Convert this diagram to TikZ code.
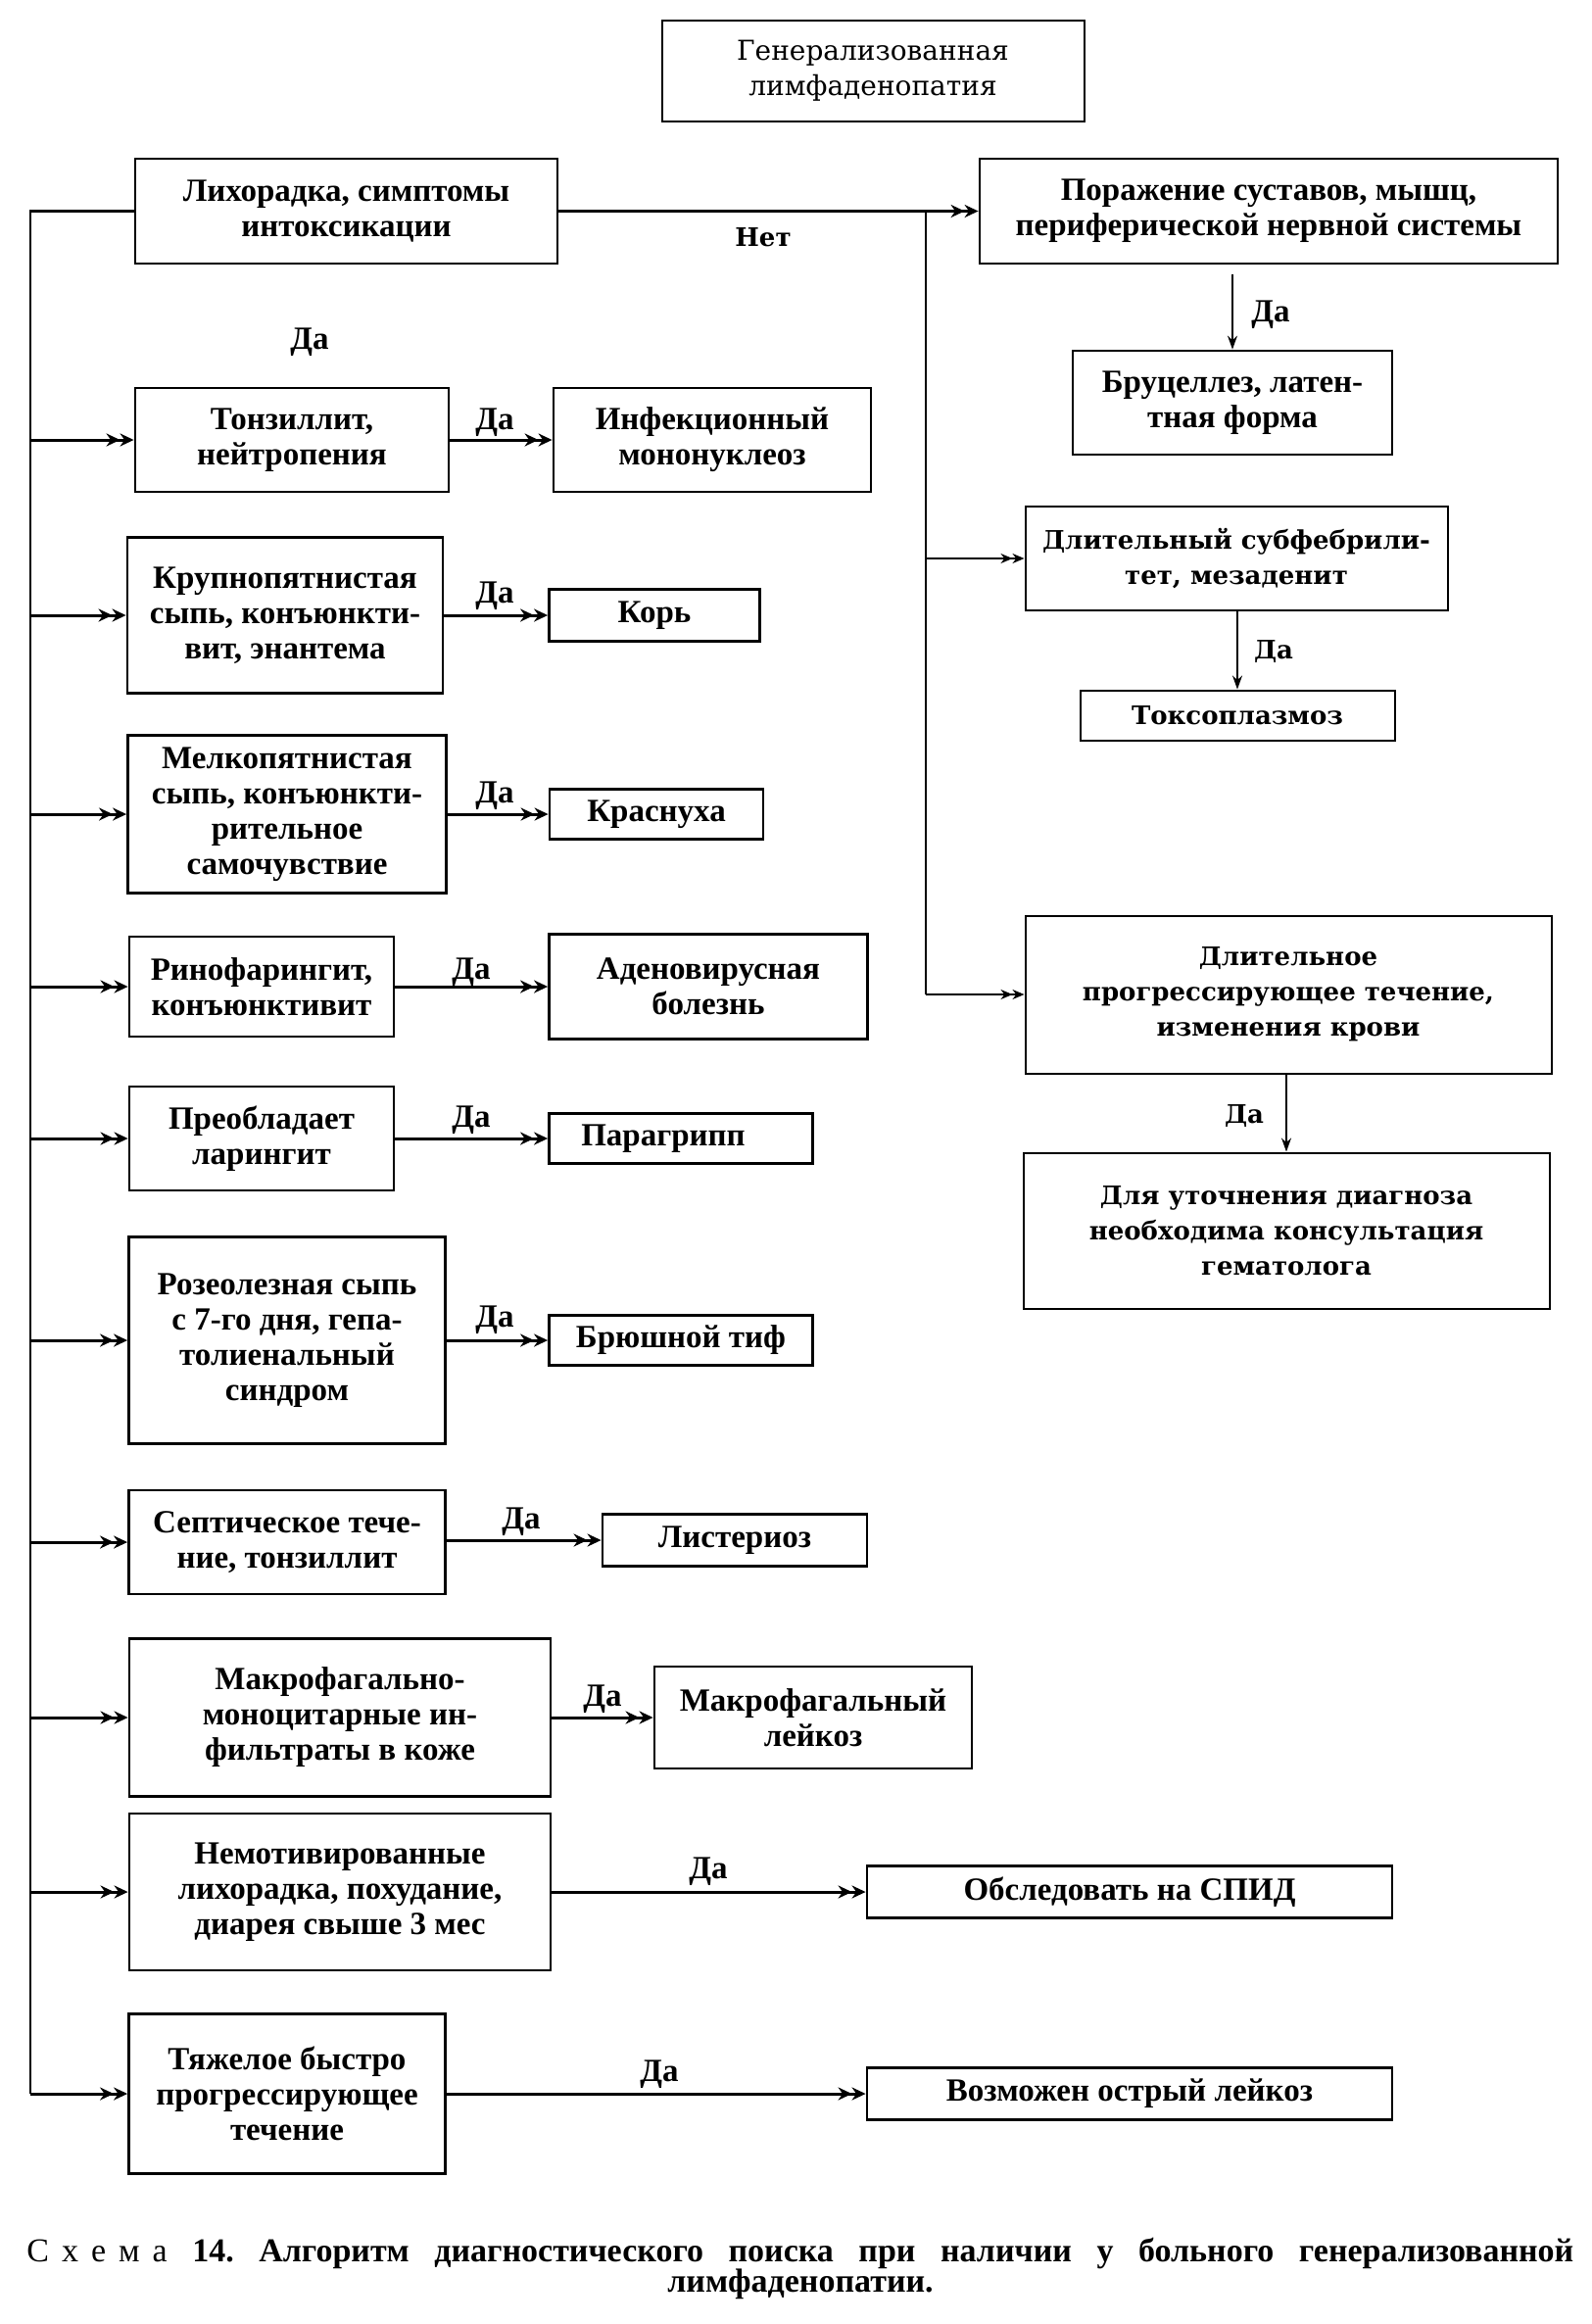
\documentclass[tikz,border=0pt]{standalone}
\usepackage{fontspec}
\setmainfont{Liberation Serif}
\newfontfamily\cfont{DejaVu Serif}
\usetikzlibrary{arrows.meta}
\frenchspacing
\begin{document}
\begin{tikzpicture}[x=0.5pt,y=-0.5pt,
  lbox/.style={draw, line width=1.4pt, align=center, inner sep=0pt, font=\bfseries\fontsize{16.5}{18}\selectfont},
  cbox/.style={draw, line width=1pt, align=center, inner sep=0pt, font=\cfont\bfseries\fontsize{13}{18}\selectfont},
  topbox/.style={draw, line width=1pt, align=center, inner sep=0pt, font=\cfont\fontsize{14}{18}\selectfont},
  larr/.style={line width=1.5pt, -{Stealth[length=7pt,width=6.5pt]Stealth[length=7pt,width=6.5pt]}},
  tarr/.style={line width=0.8pt, -{Stealth[length=6pt,width=5pt]Stealth[length=6pt,width=5pt]}},
  varr/.style={line width=0.8pt, -{Stealth[length=7pt,width=5pt]}},
  lbl/.style={inner sep=0pt, font=\bfseries\fontsize{16.5}{18}\selectfont},
  clbl/.style={inner sep=0pt, font=\cfont\bfseries\fontsize{13}{18}\selectfont}
]
\path[use as bounding box] (0,0) rectangle (1624,2372);

% top
\node[topbox, minimum width=215.5pt, minimum height=51.5pt] (top) at (891,72) {Генерализованная\\лимфаденопатия};
\node[lbox, minimum width=215.5pt, minimum height=53.5pt] (fev) at (353.5,215.5) {Лихорадка, симптомы\\интоксикации};
\node[lbox, minimum width=295pt, minimum height=53.5pt] (jnt) at (1295,215.5) {Поражение суставов, мышц,\\периферической нервной системы};
\node[lbox, minimum width=163pt, minimum height=53pt] (bru) at (1258,411) {Бруцеллез, латен-\\тная форма};
\node[cbox, minimum width=215.5pt, minimum height=53pt] (sub) at (1262,570) {Длительный субфебрили-\\тет, мезаденит};
\node[cbox, minimum width=160.5pt, minimum height=25.5pt] (tox) at (1263,730) {Токсоплазмоз};
\node[cbox, minimum width=268.5pt, minimum height=80.5pt] (lng) at (1315,1015) {Длительное\\прогрессирующее течение,\\изменения крови};
\node[cbox, minimum width=268.5pt, minimum height=79.5pt] (hem) at (1313,1256) {Для уточнения диагноза\\необходима консультация\\гематолога};

% left column
\node[lbox, minimum width=160pt, minimum height=53pt] (t1) at (298,449) {Тонзиллит,\\нейтропения};
\node[lbox, minimum width=162pt, minimum height=53pt] (d1) at (727,449) {Инфекционный\\мононуклеоз};
\node[lbox, minimum width=161pt, minimum height=79.5pt] (t2) at (291,628) {Крупнопятнистая\\сыпь, конъюнкти-\\вит, энантема};
\node[lbox, minimum width=107.5pt, minimum height=26.5pt] (d2) at (668,628) {Корь};
\node[lbox, minimum width=162.5pt, minimum height=80.5pt] (t3) at (293,831) {Мелкопятнистая\\сыпь, конъюнкти-\\рительное\\самочувствие};
\node[lbox, minimum width=109pt, minimum height=25.5pt] (d3) at (670,831) {Краснуха};
\node[lbox, minimum width=135pt, minimum height=51pt] (t4) at (267,1007) {Ринофарингит,\\конъюнктивит};
\node[lbox, minimum width=162.5pt, minimum height=53.5pt] (d4) at (723,1007) {Аденовирусная\\болезнь};
\node[lbox, minimum width=135pt, minimum height=53pt] (t5) at (267,1162) {Преобладает\\ларингит};
\node[lbox, minimum width=134.5pt, minimum height=25.5pt] (d5) at (695,1162) {Парагрипп\hspace*{18pt}};
\node[lbox, minimum width=161.5pt, minimum height=105.5pt] (t6) at (293,1368) {Розеолезная сыпь\\с 7-го дня, гепа-\\толиенальный\\синдром};
\node[lbox, minimum width=134.5pt, minimum height=25.5pt] (d6) at (695,1368) {Брюшной тиф};
\node[lbox, minimum width=161.5pt, minimum height=53pt] (t7) at (293,1574) {Септическое тече-\\ние, тонзиллит};
\node[lbox, minimum width=135pt, minimum height=26.5pt] (d7) at (750,1572) {Листериоз};
\node[lbox, minimum width=215pt, minimum height=80.5pt] (t8) at (347,1753) {Макрофагально-\\моноцитарные ин-\\фильтраты в коже};
\node[lbox, minimum width=162pt, minimum height=52pt] (d8) at (830,1753) {Макрофагальный\\лейкоз};
\node[lbox, minimum width=215pt, minimum height=80pt] (t9) at (347,1931) {Немотивированные\\лихорадка, похудание,\\диарея свыше 3 мес};
\node[lbox, minimum width=268pt, minimum height=26.5pt] (d9) at (1153,1931) {Обследовать на СПИД};
\node[lbox, minimum width=161.5pt, minimum height=81.5pt] (t10) at (293,2137) {Тяжелое быстро\\прогрессирующее\\течение};
\node[lbox, minimum width=268pt, minimum height=26.5pt] (d10) at (1153,2137) {Возможен острый лейкоз};

% spine and main connectors
\coordinate (sp) at (31,217);
\coordinate (rv) at (945,217);
\draw[line width=1.3pt] (fev.west) -- (fev.west -| sp) -- (t10.west -| sp);
\draw[larr] (fev.east) -- (jnt.west);
\draw[line width=0.8pt] (rv) -- (lng.west -| rv);
\draw[tarr] (sub.west -| rv) -- (sub.west);
\draw[tarr] (lng.west -| rv) -- (lng.west);
\draw[varr] (bru.north |- jnt.south) ++(0,10) -- (bru.north);
\draw[varr] (tox.north |- sub.south) -- (tox.north);
\draw[varr] (hem.north |- lng.south) -- (hem.north);

\foreach \i in {1,...,10}{
  \draw[larr] (t\i.west -| sp) -- (t\i.west);
}
\draw[larr] (t1.east) -- (d1.west);
\draw[larr] (t2.east) -- (d2.west);
\draw[larr] (t3.east) -- (d3.west);
\draw[larr] (t4.east) -- (d4.west);
\draw[larr] (t5.east) -- (d5.west);
\draw[larr] (t6.east) -- (d6.west);
\draw[larr] (t7.east |- d7.west) -- (d7.west);
\draw[larr] (t8.east) -- (d8.west);
\draw[larr] (t9.east) -- (d9.west);
\draw[larr] (t10.east) -- (d10.west);

% labels
\node[clbl] (net) at (779,242) {Нет};
\node[lbl] (yes0) at (316,349) {Да};
\node[lbl] (yesb) at (1297,321) {Да};
\node[clbl] (yess) at (1300,665) {Да};
\node[clbl] (yesl) at (1270,1139) {Да};
\node[lbl] (y1) at (505,431) {Да};
\node[lbl] (y2) at (505,608) {Да};
\node[lbl] (y3) at (505,812) {Да};
\node[lbl] (y4) at (481,992) {Да};
\node[lbl] (y5) at (481,1143) {Да};
\node[lbl] (y6) at (505,1347) {Да};
\node[lbl] (y7) at (532,1553) {Да};
\node[lbl] (y8) at (615,1734) {Да};
\node[lbl] (y9) at (723,1910) {Да};
\node[lbl] (y10) at (673,2117) {Да};

% caption
\node[inner sep=0pt, anchor=west, font=\fontsize{17}{18}\selectfont] (cap1) at (27,2300)
  {\makebox[789.5pt][s]{{\mdseries С\hspace{6.5pt}х\hspace{6.5pt}е\hspace{6.5pt}м\hspace{6.5pt}а} \bfseries 14. Алгоритм диагностического поиска при наличии у больного генерализованной}};
\node[inner sep=0pt, font=\bfseries\fontsize{17}{18}\selectfont] (cap2) at (817,2331) {лимфаденопатии.};
\end{tikzpicture}
\end{document}
